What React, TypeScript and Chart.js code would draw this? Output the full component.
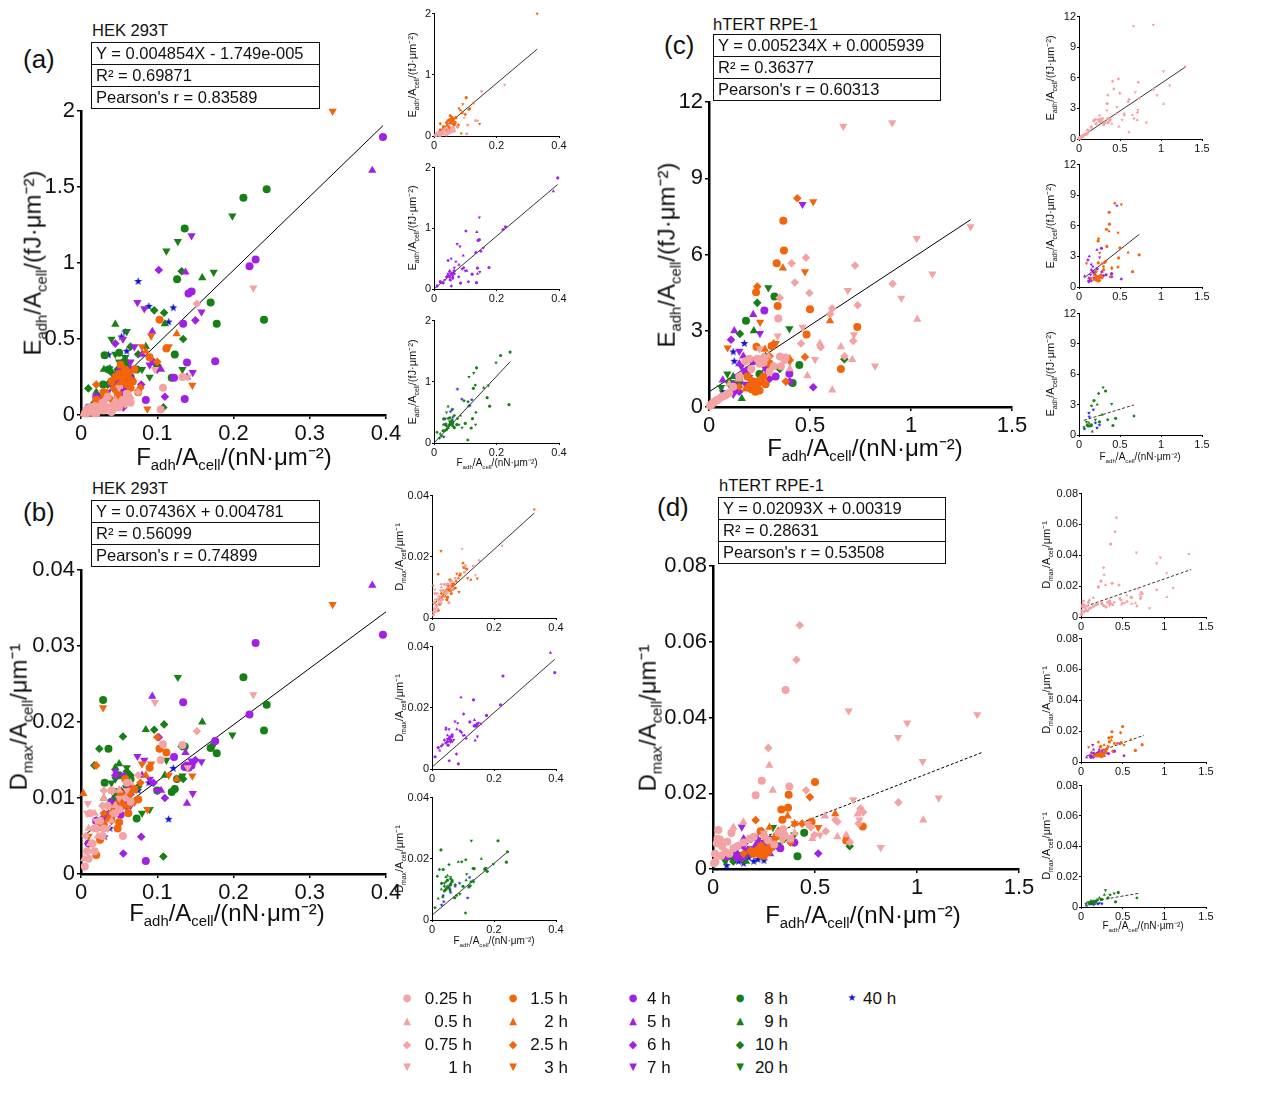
import React, { useEffect, useRef } from "react";
import Chart from "chart.js/auto";

const FONT = "'Liberation Sans', Arial, Helvetica, sans-serif";

const timeLabels = ["0.25 h", "0.5 h", "0.75 h", "1 h", "1.5 h", "2 h", "2.5 h", "3 h", "4 h", "5 h", "6 h", "7 h", "8 h", "9 h", "10 h", "20 h", "40 h"];

// HEK 293T cells, each point: [Fadh/Acell, Eadh/Acell, Dmax/Acell]
const hek_0_25h = [[0.005, 0.01, 0.001], [0.01, 0.02, 0.002], [0.015, 0.03, 0.004], [0.02, 0.01, 0.006], [0.008, 0.04, 0.003], [0.025, 0.05, 0.007], [0.03, 0.03, 0.006], [0.045, 0.06, 0.008], [0.055, 0.1, 0.005], [0.1045, 0.037, 0.015], [0.1075, 0.18, 0.0171], [0.035, 0.12, 0.009], [0.06, 0.14, 0.012], [0.133, 0.25, 0.017], [0.04, 0.02, 0.011], [0.012, 0.05, 0.008], [0.028, 0.08, 0.005], [0.018, 0.06, 0.003], [0.05, 0.05, 0.0085], [0.065, 0.08, 0.0095]];
const hek_0_5h = [[0.004, 0.01, 0.002], [0.012, 0.02, 0.004], [0.018, 0.03, 0.008], [0.03, 0.04, 0.01], [0.04, 0.06, 0.007], [0.05, 0.08, 0.011], [0.022, 0.02, 0.005], [0.065, 0.12, 0.012], [0.01, 0.03, 0.006], [0.045, 0.1, 0.009]];
const hek_0_75h = [[0.006, 0.02, 0.005], [0.016, 0.01, 0.006], [0.028, 0.05, 0.009], [0.042, 0.03, 0.008], [0.058, 0.07, 0.01], [0.152, 0.732, 0.0188], [0.03, 0.09, 0.011], [0.075, 0.15, 0.013]];
const hek_1h = [[0.008, 0.02, 0.008], [0.02, 0.04, 0.007], [0.035, 0.06, 0.006], [0.226, 0.837, 0.0236], [0.097, 0.3, 0.0226], [0.009, 0.01, 0.0093], [0.05, 0.18, 0.01], [0.14, 0.25, 0.014], [0.015, 0.05, 0.004], [0.06, 0.12, 0.011]];
const hek_1_5h = [[0.03, 0.15, 0.0065], [0.04, 0.22, 0.0075], [0.045, 0.25, 0.0085], [0.05, 0.27, 0.0068], [0.055, 0.24, 0.009], [0.06, 0.2, 0.0102], [0.065, 0.18, 0.011], [0.103, 0.627, 0.0165], [0.112, 0.437, 0.016], [0.02, 0.1, 0.0025], [0.075, 0.15, 0.0098], [0.09, 0.38, 0.014], [0.07, 0.3, 0.0112], [0.048, 0.12, 0.006], [0.025, 0.06, 0.0045], [0.058, 0.3, 0.0125], [0.052, 0.33, 0.0105], [0.062, 0.28, 0.008], [0.068, 0.22, 0.0095]];
const hek_2h = [[0.003, 0.01, 0.0106], [0.025, 0.08, 0.006], [0.042, 0.18, 0.0085], [0.055, 0.22, 0.01], [0.1255, 0.535, 0.0125], [0.07, 0.3, 0.011], [0.035, 0.14, 0.0072], [0.085, 0.42, 0.013]];
const hek_2_5h = [[0.015, 0.05, 0.004], [0.03, 0.12, 0.008], [0.05, 0.2, 0.011], [0.062, 0.25, 0.009], [0.1, 0.35, 0.018], [0.078, 0.18, 0.012], [0.04, 0.1, 0.007], [0.02, 0.2, 0.0143], [0.055, 0.28, 0.01], [0.045, 0.16, 0.009]];
const hek_3h = [[0.33, 2.0, 0.0355], [0.087, 0.04, 0.0085], [0.146, 0.197, 0.0129], [0.029, 0.15, 0.0219], [0.01, 0.03, 0.005], [0.05, 0.14, 0.0095], [0.08, 0.45, 0.0145], [0.115, 0.45, 0.013], [0.065, 0.2, 0.0105], [0.04, 0.1, 0.008], [0.092, 0.52, 0.0145]];
const hek_4h = [[0.396, 1.83, 0.0315], [0.229, 1.023, 0.0304], [0.221, 0.98, 0.021], [0.145, 0.813, 0.0143], [0.141, 0.8, 0.014], [0.176, 0.354, 0.0175], [0.139, 0.345, 0.0143], [0.122, 0.245, 0.0154], [0.136, 0.105, 0.0141], [0.085, 0.098, 0.0017], [0.134, 0.6, 0.0226], [0.02, 0.12, 0.007], [0.05, 0.2, 0.009], [0.055, 0.24, 0.01], [0.06, 0.18, 0.0095], [0.01, 0.05, 0.004], [0.045, 0.22, 0.0085], [0.058, 0.26, 0.0105], [0.052, 0.15, 0.0078], [0.065, 0.3, 0.0112]];
const hek_5h = [[0.382, 1.61, 0.038], [0.137, 0.94, 0.016], [0.0935, 0.55, 0.0234], [0.139, 0.25, 0.0093], [0.05, 0.3, 0.011], [0.08, 0.4, 0.013], [0.025, 0.1, 0.006], [0.105, 0.3, 0.011], [0.06, 0.2, 0.009]];
const hek_6h = [[0.102, 0.955, 0.018], [0.15, 0.623, 0.015], [0.045, 0.47, 0.013], [0.0555, 0.05, 0.0027], [0.079, 0.2, 0.0049], [0.03, 0.1, 0.0075], [0.065, 0.25, 0.0105], [0.095, 0.35, 0.012], [0.04, 0.2, 0.0095], [0.11, 0.12, 0.01]];
const hek_7h = [[0.145, 1.18, 0.0149], [0.074, 0.741, 0.0155], [0.083, 0.7, 0.015], [0.158, 0.678, 0.0148], [0.1465, 0.28, 0.0106], [0.055, 0.5, 0.013], [0.065, 0.35, 0.009], [0.035, 0.15, 0.008], [0.09, 0.33, 0.0125], [0.045, 0.25, 0.0135], [0.07, 0.45, 0.0095], [0.1, 0.3, 0.011], [0.05, 0.28, 0.0098], [0.06, 0.22, 0.0088]];
const hek_8h = [[0.2435, 1.486, 0.0223], [0.213, 1.43, 0.0259], [0.136, 1.228, 0.0168], [0.126, 0.894, 0.0125], [0.17, 0.741, 0.0166], [0.178, 0.601, 0.0159], [0.24, 0.627, 0.0189], [0.031, 0.393, 0.012], [0.05, 0.41, 0.013], [0.123, 0.398, 0.0112], [0.119, 0.245, 0.0108], [0.029, 0.2, 0.0229], [0.036, 0.3, 0.0165], [0.073, 0.3, 0.0073], [0.045, 0.25, 0.01], [0.06, 0.28, 0.0115], [0.1, 0.32, 0.011], [0.055, 0.32, 0.0105], [0.04, 0.22, 0.0095], [0.065, 0.25, 0.0125]];
const hek_9h = [[0.159, 0.903, 0.02], [0.045, 0.597, 0.014], [0.03, 0.3, 0.01], [0.085, 0.45, 0.019], [0.06, 0.35, 0.012], [0.02, 0.15, 0.007], [0.11, 0.6, 0.013], [0.05, 0.3, 0.0145]];
const hek_10h = [[0.132, 0.946, 0.0168], [0.109, 0.673, 0.0197], [0.096, 0.689, 0.019], [0.134, 0.5, 0.0125], [0.0096, 0.175, 0.004], [0.108, 0.05, 0.0023], [0.055, 0.35, 0.0181], [0.024, 0.12, 0.0165], [0.0175, 0.08, 0.0143], [0.075, 0.4, 0.0115], [0.04, 0.28, 0.011], [0.065, 0.45, 0.013], [0.048, 0.3, 0.0105], [0.035, 0.2, 0.0075], [0.06, 0.32, 0.0135]];
const hek_20h = [[0.1985, 1.31, 0.0183], [0.127, 1.143, 0.0259], [0.112, 1.08, 0.015], [0.174, 0.94, 0.017], [0.133, 0.3, 0.0129], [0.06, 0.55, 0.014], [0.04, 0.5, 0.012], [0.08, 0.3, 0.008], [0.05, 0.35, 0.011], [0.09, 0.25, 0.0085], [0.045, 0.4, 0.0125], [0.058, 0.38, 0.0095]];
const hek_40h = [[0.075, 0.879, 0.011], [0.121, 0.706, 0.0139], [0.089, 0.715, 0.012], [0.115, 0.612, 0.0072], [0.058, 0.547, 0.01], [0.053, 0.514, 0.011], [0.036, 0.396, 0.008], [0.038, 0.31, 0.006], [0.059, 0.354, 0.0115], [0.031, 0.1, 0.0049], [0.06, 0.42, 0.009]];

// hTERT RPE-1 cells, each point: [Fadh/Acell, Eadh/Acell, Dmax/Acell]
const rpe_0_25h = [[0.005, 0.05, 0.0015], [0.012, 0.1, 0.0019], [0.018, 0.15, 0.0068], [0.026, 0.2, 0.0103], [0.034, 0.25, 0.0078], [0.045, 0.3, 0.006], [0.06, 0.38, 0.0045], [0.08, 0.45, 0.004], [0.1, 0.55, 0.0055], [0.209, 1.5, 0.0195], [0.239, 1.9, 0.0233], [0.343, 3.48, 0.0105], [0.351, 1.99, 0.009], [0.356, 1.6, 0.0473], [0.374, 1.85, 0.0218], [0.18, 1.8, 0.008], [0.25, 1.7, 0.0088], [0.3, 1.4, 0.0065], [0.15, 1.2, 0.007], [0.12, 0.8, 0.006], [0.01, 0.08, 0.004], [0.022, 0.18, 0.008], [0.04, 0.28, 0.0035], [0.07, 0.42, 0.0072], [0.09, 0.5, 0.0095], [0.2, 1.9, 0.0085], [0.27, 1.75, 0.0075], [0.32, 1.6, 0.0095], [0.38, 1.95, 0.008]];
const rpe_0_5h = [[1.031, 3.45, 0.0129], [0.709, 1.87, 0.0145], [0.61, 0.67, 0.0085], [0.653, 2.37, 0.009], [0.549, 2.5, 0.014], [0.487, 1.23, 0.008], [0.276, 1.9, 0.0274], [0.293, 2.0, 0.0208], [0.149, 1.1, 0.0124], [0.1, 0.9, 0.011], [0.4, 1.5, 0.0095]];
const rpe_0_75h = [[0.909, 4.85, 0.0176], [0.723, 5.57, 0.016], [0.736, 4.01, 0.015], [0.714, 2.6, 0.012], [0.61, 3.88, 0.0125], [0.6, 3.66, 0.013], [0.48, 5.88, 0.011], [0.409, 5.66, 0.0553], [0.425, 4.9, 0.0644], [0.497, 4.49, 0.009], [0.553, 2.35, 0.01], [0.271, 2.0, 0.032], [0.456, 2.5, 0.0208], [0.671, 2.0, 0.0071], [0.35, 4.3, 0.0085]];
const rpe_1h = [[0.665, 11.06, 0.0418], [0.907, 11.19, 0.0348], [1.295, 7.1, 0.0408], [1.028, 6.64, 0.0284], [1.106, 5.24, 0.0188], [0.952, 4.29, 0.0386], [0.687, 4.59, 0.0183], [0.718, 2.85, 0.013], [0.822, 1.62, 0.0057], [0.525, 1.87, 0.009], [0.463, 3.14, 0.012], [0.34, 2.8, 0.0075], [0.25, 2.3, 0.0095]];
const rpe_1_5h = [[0.368, 7.33, 0.0162], [0.371, 6.16, 0.0196], [0.335, 5.66, 0.0157], [0.34, 3.98, 0.013], [0.5, 3.85, 0.023], [0.734, 3.15, 0.0112], [0.483, 2.85, 0.0125], [0.653, 1.5, 0.0075], [0.233, 4.52, 0.01], [0.235, 2.37, 0.006], [0.2, 0.8, 0.004], [0.22, 1.0, 0.005], [0.25, 0.65, 0.0035], [0.27, 1.2, 0.0045], [0.28, 0.9, 0.0055], [0.31, 2.4, 0.0085], [0.21, 0.7, 0.0042], [0.24, 0.9, 0.0048], [0.26, 1.1, 0.0052], [0.23, 0.6, 0.0038], [0.19, 1.2, 0.0046], [0.3, 1.7, 0.0065]];
const rpe_2h = [[0.366, 5.47, 0.014], [0.599, 3.39, 0.0146], [0.277, 2.27, 0.011], [0.32, 2.5, 0.01], [0.24, 1.0, 0.006], [0.4, 1.9, 0.012], [0.18, 0.7, 0.005]];
const rpe_2_5h = [[0.437, 8.22, 0.012], [0.475, 1.97, 0.019], [0.239, 4.74, 0.01], [0.209, 1.5, 0.0129], [0.3, 2.0, 0.008], [0.38, 1.0, 0.007], [0.15, 0.8, 0.004]];
const rpe_3h = [[0.516, 8.08, 0.011], [0.475, 5.33, 0.012], [0.253, 3.34, 0.008], [0.092, 2.33, 0.0096], [0.33, 2.5, 0.01], [0.2, 1.1, 0.005], [0.4, 1.8, 0.012]];
const rpe_4h = [[0.274, 3.8, 0.006], [0.398, 1.31, 0.007], [0.25, 1.0, 0.004], [0.18, 1.4, 0.005], [0.33, 1.2, 0.0055], [0.14, 0.8, 0.0035], [0.12, 0.6, 0.003], [0.22, 1.8, 0.0065]];
const rpe_5h = [[0.219, 3.64, 0.008], [0.125, 3.0, 0.006], [0.068, 1.06, 0.003], [0.17, 2.0, 0.005], [0.28, 1.5, 0.004], [0.15, 1.7, 0.008], [0.12, 0.9, 0.004], [0.2, 1.2, 0.0055]];
const rpe_6h = [[0.109, 2.65, 0.004], [0.516, 0.78, 0.0041], [0.2, 1.5, 0.005], [0.3, 1.1, 0.006], [0.15, 0.6, 0.003], [0.4, 1.0, 0.007]];
const rpe_7h = [[0.463, 7.98, 0.012], [0.252, 2.9, 0.007], [0.15, 2.2, 0.006], [0.141, 1.2, 0.0111], [0.18, 0.9, 0.004], [0.28, 1.5, 0.008], [0.12, 0.5, 0.003], [0.16, 1.6, 0.005], [0.22, 1.0, 0.006]];
const rpe_8h = [[0.324, 4.35, 0.006], [0.183, 3.4, 0.004], [0.414, 0.94, 0.0034], [0.447, 1.65, 0.0096], [0.15, 1.0, 0.003], [0.25, 1.3, 0.005], [0.12, 0.9, 0.0035]];
const rpe_9h = [[0.222, 3.0, 0.006], [0.162, 0.33, 0.002], [0.12, 1.2, 0.004], [0.28, 2.0, 0.008]];
const rpe_10h = [[0.239, 4.1, 0.005], [0.153, 2.88, 0.004], [0.67, 1.88, 0.006], [0.1, 1.0, 0.002], [0.35, 1.5, 0.008], [0.14, 0.95, 0.003]];
const rpe_20h = [[0.294, 4.7, 0.011], [0.398, 3.08, 0.009], [0.091, 1.3, 0.003], [0.06, 0.77, 0.002], [0.2, 1.5, 0.005], [0.1, 0.9, 0.0025]];
const rpe_40h = [[0.175, 2.5, 0.003], [0.125, 1.8, 0.002], [0.12, 2.17, 0.0025], [0.067, 0.6, 0.0009], [0.2, 1.2, 0.002], [0.25, 1.0, 0.0022], [0.15, 0.9, 0.0015], [0.22, 0.7, 0.0025]];

const hekSeries = [hek_0_25h, hek_0_5h, hek_0_75h, hek_1h, hek_1_5h, hek_2h, hek_2_5h, hek_3h, hek_4h, hek_5h, hek_6h, hek_7h, hek_8h, hek_9h, hek_10h, hek_20h, hek_40h];
const rpeSeries = [rpe_0_25h, rpe_0_5h, rpe_0_75h, rpe_1h, rpe_1_5h, rpe_2h, rpe_2_5h, rpe_3h, rpe_4h, rpe_5h, rpe_6h, rpe_7h, rpe_8h, rpe_9h, rpe_10h, rpe_20h, rpe_40h];

// linear fits: slope, intercept, x range
type Fit = { m: number; c: number; x0: number; x1: number; dashed?: boolean };
const fitA: Fit = { m: 4.854, c: -0.0175, x0: 0, x1: 0.396 };
const fitB: Fit = { m: 0.07436, c: 0.004781, x0: 0, x1: 0.4 };
const fitC: Fit = { m: 5.234, c: 0.594, x0: 0, x1: 1.295 };
const fitD: Fit = { m: 0.02093, c: 0.00319, x0: 0, x1: 1.322, dashed: true };
const hekEFits: Fit[] = [{ m: 4.3, c: 0, x0: 0, x1: 0.33 }, { m: 4.35, c: 0, x0: 0, x1: 0.396 }, { m: 5.45, c: 0, x0: 0, x1: 0.2435 }];
const hekDFits: Fit[] = [{ m: 0.0915, c: 0.0041, x0: 0, x1: 0.33 }, { m: 0.089, c: 0.0006, x0: 0, x1: 0.396 }, { m: 0.0846, c: 0.0016, x0: 0, x1: 0.2435 }];
const rpeEFits: Fit[] = [{ m: 5.4, c: 0.05, x0: 0, x1: 1.295 }, { m: 6.36, c: 0.49, x0: 0.068, x1: 0.734 }, { m: 2.5, c: 1.3, x0: 0.06, x1: 0.67, dashed: true }];
const rpeDFits: Fit[] = [{ m: 0.0188, c: 0.0059, x0: 0.005, x1: 1.322, dashed: true }, { m: 0.0195, c: 0.0026, x0: 0.068, x1: 0.753, dashed: true }, { m: 0.0094, c: 0.0025, x0: 0.06, x1: 0.688, dashed: true }];

const hekGroups = [[0, 1, 2, 3, 4, 5, 6, 7], [8, 9, 10, 11], [12, 13, 14, 15, 16]];
const rpeGroups = [[0, 1, 2, 3], [4, 5, 6, 7, 8, 9, 10, 11], [12, 13, 14, 15, 16]];
const allSeries = [0, 1, 2, 3, 4, 5, 6, 7, 8, 9, 10, 11, 12, 13, 14, 15, 16];

const PINK = "#F3A3A3";
const ORANGE = "#F2650A";
const PURPLE = "#A020E6";
const GREEN = "#168016";
const BLUE = "#1414C8";
const seriesColor = [PINK, PINK, PINK, PINK, ORANGE, ORANGE, ORANGE, ORANGE, PURPLE, PURPLE, PURPLE, PURPLE, GREEN, GREEN, GREEN, GREEN, BLUE];
const seriesShape = ["circle", "triangle", "rectRot", "down", "circle", "triangle", "rectRot", "down", "circle", "triangle", "rectRot", "down", "circle", "triangle", "rectRot", "down", "star"];
const shapeRadius: Record<string, number> = { circle: 4, triangle: 4.8, rectRot: 4.3, down: 4.8, star: 4.2 };
const legendGlyph: Record<string, string> = { circle: "●", triangle: "▲", rectRot: "◆", down: "▼", star: "★" };

function starCanvas(color: string, r: number) {
  const c = document.createElement("canvas");
  const s = Math.ceil(r * 2 + 2);
  c.width = s;
  c.height = s;
  const g = c.getContext("2d")!;
  g.fillStyle = color;
  g.beginPath();
  for (let k = 0; k < 10; k++) {
    const rad = k % 2 === 0 ? r : r * 0.42;
    const a = -Math.PI / 2 + (k * Math.PI) / 5;
    g.lineTo(s / 2 + rad * Math.cos(a), s / 2 + rad * Math.sin(a));
  }
  g.closePath();
  g.fill();
  return c;
}

type PanelSpec = {
  l: number; r: number; t: number; b: number;
  xMax: number; xStep: number; yMax: number; yStep: number;
  source: number[][][]; pick: number[]; col: number; fit: Fit; small: boolean;
};

function ScatterPanel({ spec }: { spec: PanelSpec }) {
  const canvasRef = useRef<HTMLCanvasElement>(null);
  const yW = spec.small ? 26 : 62;
  const xH = spec.small ? 16 : 34;
  const padT = spec.small ? 7 : 14;
  const padR = spec.small ? 12 : 22;
  const w = spec.r - spec.l + yW + padR;
  const h = spec.b - spec.t + padT + xH;

  useEffect(() => {
    const k = spec.small ? 0.4 : 1;
    const datasets: any[] = spec.pick.map((i) => {
      const shape = seriesShape[i];
      const rr = shapeRadius[shape] * k;
      return {
        type: "scatter",
        data: spec.source[i].map((p) => ({ x: p[0], y: p[spec.col] })),
        pointStyle: shape === "star" ? starCanvas(seriesColor[i], Math.max(rr, 2)) : shape === "down" ? "triangle" : shape,
        pointRotation: shape === "down" ? 180 : 0,
        pointRadius: rr,
        pointBackgroundColor: seriesColor[i],
        pointBorderColor: seriesColor[i],
        pointBorderWidth: 0,
        clip: false,
      };
    });
    const f = spec.fit;
    datasets.push({
      type: "line",
      data: [{ x: f.x0, y: f.m * f.x0 + f.c }, { x: f.x1, y: f.m * f.x1 + f.c }],
      borderColor: "#000",
      borderWidth: spec.small ? 0.8 : 1,
      borderDash: f.dashed ? [3, 2] : [],
      pointRadius: 0,
      fill: false,
      order: 100,
    });

    const tickFont = { family: FONT, size: spec.small ? 11 : 22 };
    const axis = (max: number, step: number, isX: boolean) => ({
      type: "linear" as const,
      min: 0,
      max,
      ticks: {
        stepSize: step,
        font: tickFont,
        color: "#111",
        padding: spec.small ? 1 : 2,
        maxRotation: 0,
        autoSkip: false,
        callback: (v: any) => String(Number(Number(v).toFixed(6))),
      },
      grid: { display: true, drawOnChartArea: false, drawTicks: true, tickLength: spec.small ? 2 : 4, color: "#000", lineWidth: spec.small ? 1 : 1.5 },
      border: { display: true, color: "#000", width: spec.small ? 1 : 2.5 },
      afterFit: (s: any) => {
        if (isX) s.height = xH;
        else s.width = yW;
      },
    });

    const chart = new Chart(canvasRef.current!, {
      type: "scatter",
      data: { datasets },
      options: {
        responsive: false,
        animation: false,
        layout: { padding: { left: 0, right: padR, top: padT, bottom: 0 } },
        plugins: { legend: { display: false }, tooltip: { enabled: false } },
        scales: { x: axis(spec.xMax, spec.xStep, true), y: axis(spec.yMax, spec.yStep, false) },
      },
    } as any);
    return () => chart.destroy();
  }, [spec]);

  return (
    <canvas
      ref={canvasRef}
      width={w}
      height={h}
      style={{ position: "absolute", left: spec.l - yW, top: spec.t - padT, width: w, height: h }}
    />
  );
}

const sub = (t: string) => <sub style={{ fontSize: "0.62em" }}>{t}</sub>;
const eTitle = <>E{sub("adh")}/A{sub("cell")}/(fJ·μm⁻²)</>;
const dTitle = <>D{sub("max")}/A{sub("cell")}/μm⁻¹</>;
const fTitle = <>F{sub("adh")}/A{sub("cell")}/(nN·μm⁻²)</>;

function Label({ x, y, size, rotate, children }: { x: number; y: number; size: number; rotate?: boolean; children: React.ReactNode }) {
  return (
    <div
      style={{
        position: "absolute",
        left: x,
        top: y,
        transform: `translate(-50%, -50%)${rotate ? " rotate(-90deg)" : ""}`,
        whiteSpace: "nowrap",
        fontFamily: FONT,
        fontSize: size,
        color: "#111",
        lineHeight: 1,
      }}
    >
      {children}
    </div>
  );
}

function Text({ x, y, size, children }: { x: number; y: number; size: number; children: React.ReactNode }) {
  return (
    <div style={{ position: "absolute", left: x, top: y, fontFamily: FONT, fontSize: size, color: "#111", whiteSpace: "nowrap", lineHeight: 1 }}>
      {children}
    </div>
  );
}

function StatBox({ l, t, w, rows }: { l: number; t: number; w: number; rows: string[] }) {
  return (
    <div style={{ position: "absolute", left: l, top: t, width: w, boxSizing: "border-box", border: "1.5px solid #111", fontFamily: FONT, fontSize: 16.5, color: "#111" }}>
      {rows.map((r, i) => (
        <div key={i} style={{ height: 21, lineHeight: "21px", paddingLeft: 4, borderTop: i ? "1.5px solid #111" : "none", whiteSpace: "nowrap" }}>
          {r}
        </div>
      ))}
    </div>
  );
}

const panels: PanelSpec[] = [
  { l: 81, r: 386, t: 110, b: 415, xMax: 0.4, xStep: 0.1, yMax: 2, yStep: 0.5, source: hekSeries, pick: allSeries, col: 1, fit: fitA, small: false },
  { l: 81, r: 386, t: 569, b: 874, xMax: 0.4, xStep: 0.1, yMax: 0.04, yStep: 0.01, source: hekSeries, pick: allSeries, col: 2, fit: fitB, small: false },
  { l: 709, r: 1012, t: 101, b: 407, xMax: 1.5, xStep: 0.5, yMax: 12, yStep: 3, source: rpeSeries, pick: allSeries, col: 1, fit: fitC, small: false },
  { l: 713, r: 1019, t: 565, b: 869, xMax: 1.5, xStep: 0.5, yMax: 0.08, yStep: 0.02, source: rpeSeries, pick: allSeries, col: 2, fit: fitD, small: false },
];

const hekETops = [[13, 136], [167, 289], [320, 443]];
const hekDTops = [[495, 618], [646, 769], [797, 920]];
const rpeETops = [[16, 139], [164, 287], [313, 435]];
const rpeDTops = [[493, 617], [638, 762], [785, 907]];

hekETops.forEach(([t, b], g) => panels.push({ l: 434, r: 559, t, b, xMax: 0.4, xStep: 0.2, yMax: 2, yStep: 1, source: hekSeries, pick: hekGroups[g], col: 1, fit: hekEFits[g], small: true }));
hekDTops.forEach(([t, b], g) => panels.push({ l: 432, r: 556, t, b, xMax: 0.4, xStep: 0.2, yMax: 0.04, yStep: 0.02, source: hekSeries, pick: hekGroups[g], col: 2, fit: hekDFits[g], small: true }));
rpeETops.forEach(([t, b], g) => panels.push({ l: 1079, r: 1202, t, b, xMax: 1.5, xStep: 0.5, yMax: 12, yStep: 3, source: rpeSeries, pick: rpeGroups[g], col: 1, fit: rpeEFits[g], small: true }));
rpeDTops.forEach(([t, b], g) => panels.push({ l: 1081, r: 1206, t, b, xMax: 1.5, xStep: 0.5, yMax: 0.08, yStep: 0.02, source: rpeSeries, pick: rpeGroups[g], col: 2, fit: rpeDFits[g], small: true }));

// legend layout: columns of [marker x, text anchor x, right aligned]
const legendCols = [
  { mx: 407, tx: 472, right: true },
  { mx: 513, tx: 568, right: true },
  { mx: 633, tx: 647, right: false },
  { mx: 740, tx: 788, right: true },
  { mx: 852, tx: 863, right: false },
];
const legendRows = [998, 1021, 1044, 1067];

export default function App() {
  return (
    <div style={{ position: "absolute", left: 0, top: 0, width: 1268, height: 1109, background: "#fff", overflow: "hidden" }}>
      {panels.map((p, i) => (
        <ScatterPanel key={i} spec={p} />
      ))}

      <Text x={23} y={46} size={26}>(a)</Text>
      <Text x={23} y={499} size={26}>(b)</Text>
      <Text x={664} y={32} size={26}>(c)</Text>
      <Text x={657} y={494} size={26}>(d)</Text>

      <Text x={92} y={22} size={16.5}>HEK 293T</Text>
      <Text x={92} y={480} size={16.5}>HEK 293T</Text>
      <Text x={713} y={16} size={16.5}>hTERT RPE-1</Text>
      <Text x={719} y={477} size={16.5}>hTERT RPE-1</Text>

      <StatBox l={91} t={42} w={229} rows={["Y = 0.004854X - 1.749e-005", "R² = 0.69871", "Pearson's r = 0.83589"]} />
      <StatBox l={91} t={500} w={229} rows={["Y = 0.07436X + 0.004781", "R² = 0.56099", "Pearson's r = 0.74899"]} />
      <StatBox l={713} t={34} w={228} rows={["Y = 0.005234X + 0.0005939", "R² = 0.36377", "Pearson's r = 0.60313"]} />
      <StatBox l={718} t={497} w={228} rows={["Y = 0.02093X + 0.00319", "R² = 0.28631", "Pearson's r = 0.53508"]} />

      <Label x={35} y={263} size={24} rotate>{eTitle}</Label>
      <Label x={21} y={717} size={24} rotate>{dTitle}</Label>
      <Label x={669} y={255} size={24} rotate>{eTitle}</Label>
      <Label x={650} y={718} size={24} rotate>{dTitle}</Label>
      <Label x={234} y={459} size={24}>{fTitle}</Label>
      <Label x={227} y={915} size={24}>{fTitle}</Label>
      <Label x={865} y={450} size={24}>{fTitle}</Label>
      <Label x={863} y={917} size={24}>{fTitle}</Label>

      {hekETops.map(([t, b], i) => <Label key={"he" + i} x={414} y={(t + b) / 2} size={11} rotate>{eTitle}</Label>)}
      {hekDTops.map(([t, b], i) => <Label key={"hd" + i} x={401} y={(t + b) / 2} size={11} rotate>{dTitle}</Label>)}
      {rpeETops.map(([t, b], i) => <Label key={"re" + i} x={1052} y={(t + b) / 2} size={11} rotate>{eTitle}</Label>)}
      {rpeDTops.map(([t, b], i) => <Label key={"rd" + i} x={1048} y={(t + b) / 2} size={11} rotate>{dTitle}</Label>)}
      <Label x={497} y={464} size={10}>{fTitle}</Label>
      <Label x={494} y={942} size={10}>{fTitle}</Label>
      <Label x={1140} y={458} size={10}>{fTitle}</Label>
      <Label x={1143} y={927} size={10}>{fTitle}</Label>

      {timeLabels.map((lab, i) => {
        const col = legendCols[Math.floor(i / 4)];
        const y = legendRows[i % 4];
        const shape = seriesShape[i];
        return (
          <React.Fragment key={lab}>
            <div style={{ position: "absolute", left: col.mx, top: y, transform: "translate(-50%, -50%)", color: seriesColor[i], fontFamily: "'DejaVu Sans', sans-serif", fontSize: shape === "rectRot" ? 11 : 10, lineHeight: 1 }}>
              {legendGlyph[shape]}
            </div>
            <div style={{ position: "absolute", left: col.right ? undefined : col.tx, right: col.right ? 1268 - col.tx : undefined, top: y, transform: "translateY(-50%)", fontFamily: FONT, fontSize: 17, color: "#111", lineHeight: 1, whiteSpace: "nowrap" }}>
              {lab}
            </div>
          </React.Fragment>
        );
      })}
    </div>
  );
}
